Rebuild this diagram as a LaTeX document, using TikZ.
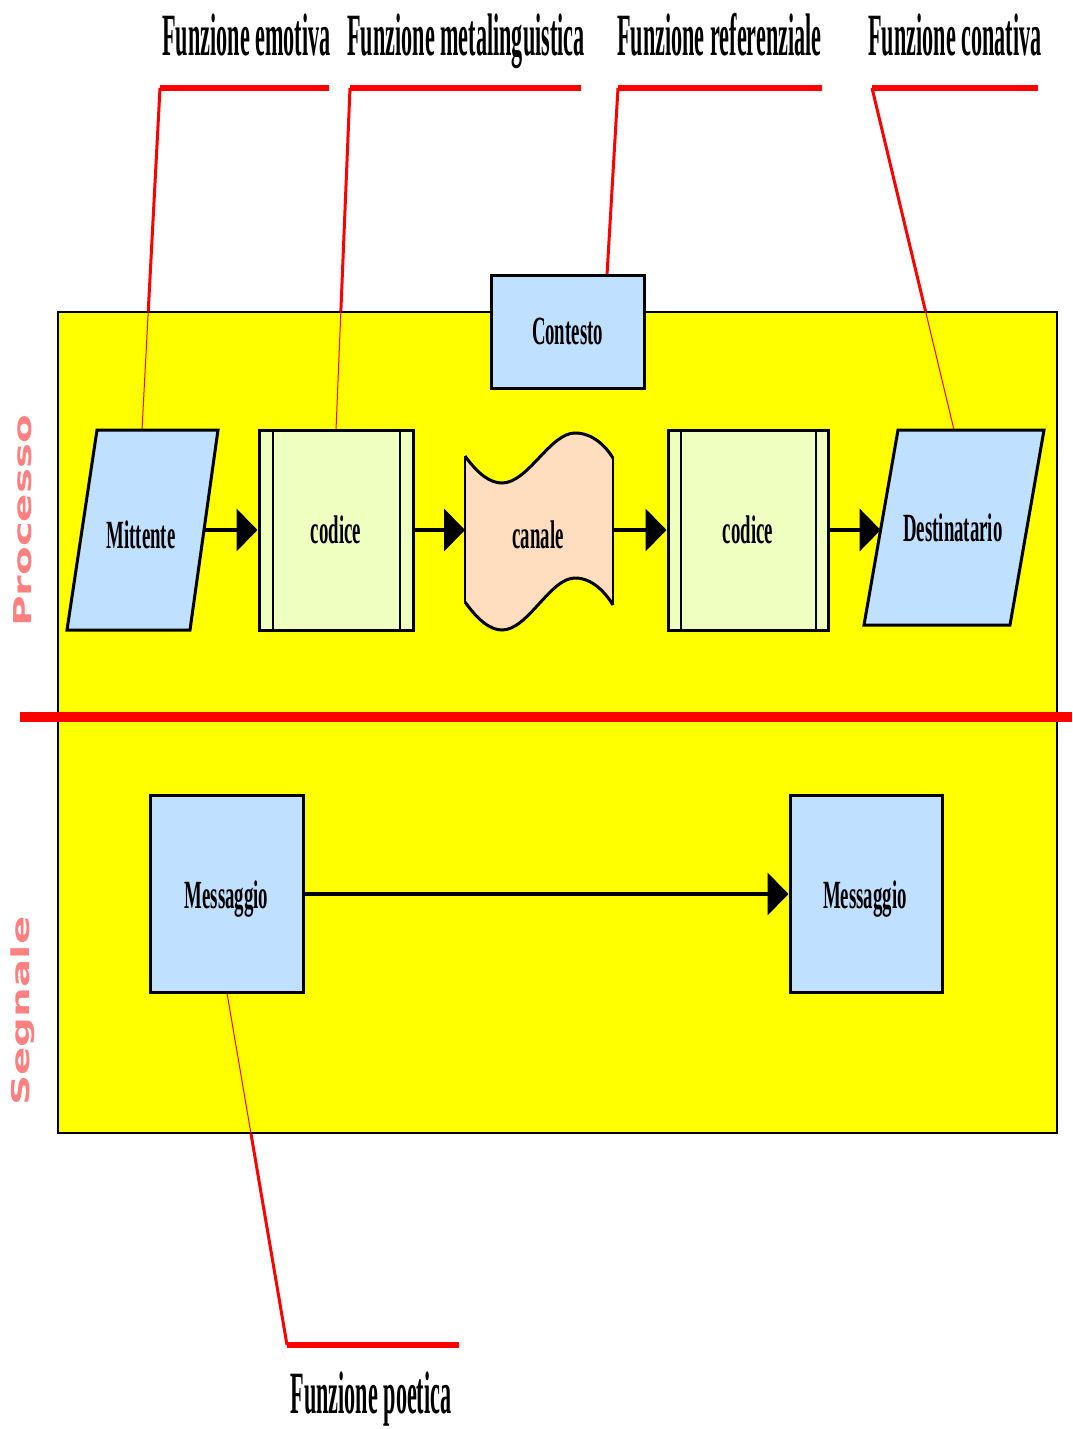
\documentclass[tikz,border=0pt]{standalone}
\usepackage{fontspec}
\setmainfont{Liberation Serif}
\newfontfamily\headfont[FakeStretch=0.37]{Liberation Serif}
\newfontfamily\boxfont[FakeStretch=0.47]{Liberation Serif}
\newfontfamily\sidefont[FakeStretch=1.7]{DejaVu Sans}
\usetikzlibrary{arrows.meta}
\definecolor{panelyellow}{RGB}{255,255,0}
\definecolor{shapeblue}{RGB}{192,224,255}
\definecolor{codegreen}{RGB}{238,255,192}
\definecolor{channelpeach}{RGB}{255,221,190}
\definecolor{leadred}{RGB}{255,0,0}
\definecolor{sidepink}{RGB}{255,128,128}

\begin{document}
\begin{tikzpicture}[x=0.5pt,y=-0.5pt,
  heading/.style={font=\headfont\bfseries\fontsize{30}{30}\selectfont, anchor=base, inner sep=0pt},
  boxtext/.style={font=\boxfont\bfseries\fontsize{20}{20}\selectfont},
  sidelabel/.style={font=\sidefont\bfseries\fontsize{12.3}{12.3}\selectfont, text=sidepink, rotate=90, inner sep=0pt},
  outline/.style={draw=black, line width=1.5pt},
  bluebox/.style={outline, fill=shapeblue, inner sep=0pt, boxtext},
  codebox/.style={outline, fill=codegreen, inner sep=0pt, boxtext, minimum height=100pt},
  flow/.style={line width=2pt, -{Triangle[length=10.5pt,width=21pt]}},
  leadouter/.style={draw=leadred, line width=1.5pt},
  leadinner/.style={draw=leadred, line width=0.5pt},
  leadbar/.style={draw=leadred, line width=3pt},
]
% page
\fill[white] (0,0) rectangle (1072,1429);
\useasboundingbox (0,0) rectangle (1072,1429);

% leader elbows and end points
\coordinate (emoBarR) at (329,88);
\coordinate (emoBarL) at (160,88);
\coordinate (emoEnd)  at (142,430);
\coordinate (metBarR) at (581,88);
\coordinate (metBarL) at (350,88);
\coordinate (metEnd)  at (336,430);
\coordinate (refBarR) at (822,88);
\coordinate (refBarL) at (618,88);
\coordinate (refEnd)  at (607,275);
\coordinate (conBarR) at (1038,88);
\coordinate (conBarL) at (872,88);
\coordinate (conEnd)  at (954,430);
\coordinate (poeStart) at (227,993);
\coordinate (poeBarL) at (287,1345);
\coordinate (poeBarR) at (459,1345);

% leaders, heavy part (outside the panel)
\draw[leadouter] (emoBarL) -- (emoEnd);
\draw[leadouter] (metBarL) -- (metEnd);
\draw[leadouter] (refBarL) -- (refEnd);
\draw[leadouter] (conBarL) -- (conEnd);
\draw[leadouter] (poeStart) -- (poeBarL);
\draw[leadbar] (emoBarR) -- (emoBarL);
\draw[leadbar] (metBarR) -- (metBarL);
\draw[leadbar] (refBarR) -- (refBarL);
\draw[leadbar] (conBarR) -- (conBarL);
\draw[leadbar] (poeBarL) -- (poeBarR);

% yellow panel
\node[draw=black, line width=1.25pt, fill=panelyellow, minimum width=499.5pt,
      minimum height=410.5pt, inner sep=0pt] (panel) at (557.5,722.5) {};

% leaders, fine part (inside the panel)
\draw[leadinner] (emoBarL) -- (emoEnd);
\draw[leadinner] (metBarL) -- (metEnd);
\draw[leadinner] (conBarL) -- (conEnd);
\draw[leadinner] (poeStart) -- (poeBarL);

% separator between process and signal
\coordinate (sepL) at (20,717);
\coordinate (sepR) at (1072,717);
\draw[draw=leadred, line width=5pt] (sepL) -- (sepR);

% side labels
\node[sidelabel] (proc) at (23,521) {Processo};
\node[sidelabel] (segn) at (23,1011) {Segnale};

% headings
\node[heading] (hEmo) at (246.5,56) {Funzione emotiva};
\node[heading] (hMet) at (466,56) {Funzione metalinguistica};
\node[heading] (hRef) at (719.5,56) {Funzione referenziale};
\node[heading] (hCon) at (955,56) {Funzione conativa};
\node[heading] (hPoe) at (371,1413) {Funzione poetica};

% context
\node[bluebox, minimum width=76.5pt, minimum height=56.5pt] (ctx) at (567.5,331.5) {Contesto};

% sender
\draw[outline, fill=shapeblue] (97,430) -- (218,430) -- (190,630) -- (67,630) -- cycle;
\node[boxtext] (mit) at (141,535) {Mittente};
\coordinate (mitR) at (203.5,530);

% first code
\node[codebox, minimum width=77pt] (cod1) at (336,530) {codice};
\draw[line width=1pt] ([xshift=7.5pt]cod1.north west) -- ([xshift=7.5pt]cod1.south west);
\draw[line width=1pt] ([xshift=-7.5pt]cod1.north east) -- ([xshift=-7.5pt]cod1.south east);

% channel
\fill[channelpeach] (465,456) .. controls (478,474) and (490,483) .. (502,483)
  .. controls (528,483) and (550,433) .. (575,433)
  .. controls (592,433) and (605,445) .. (613,458)
  -- (613,605)
  .. controls (605,592) and (592,578) .. (575,578)
  .. controls (550,578) and (528,630) .. (502,630)
  .. controls (490,630) and (478,620) .. (465,602) -- cycle;
\draw[outline] (465,456) .. controls (478,474) and (490,483) .. (502,483)
  .. controls (528,483) and (550,433) .. (575,433)
  .. controls (592,433) and (605,445) .. (613,458);
\draw[outline] (613,605)
  .. controls (605,592) and (592,578) .. (575,578)
  .. controls (550,578) and (528,630) .. (502,630)
  .. controls (490,630) and (478,620) .. (465,602);
\draw[line width=0.6pt] (465,456) -- (465,602);
\draw[line width=0.6pt] (613,458) -- (613,605);
\node[boxtext] (can) at (538,535) {canale};
\coordinate (canL) at (465,530);
\coordinate (canR) at (613,530);

% second code
\node[codebox, minimum width=80pt] (cod2) at (748,530) {codice};
\draw[line width=1pt] ([xshift=7pt]cod2.north west) -- ([xshift=7pt]cod2.south west);
\draw[line width=1pt] ([xshift=-7pt]cod2.north east) -- ([xshift=-7pt]cod2.south east);

% receiver
\draw[outline, fill=shapeblue] (898,430) -- (1044,430) -- (1010,625) -- (864,625) -- cycle;
\node[boxtext] (dst) at (953,528) {Destinatario};
\coordinate (dstL) at (880.6,530);

% messages
\node[bluebox, minimum width=76.5pt, minimum height=98.5pt] (msg1) at (226.5,894) {};
\node[bluebox, minimum width=76pt, minimum height=98.5pt] (msg2) at (866,894) {};
\node[boxtext] (msg1text) at (226.5,899) {Messaggio};
\node[boxtext] (msg2text) at (865,899) {Messaggio};

% flow of communication
\draw[flow] (mitR) -- (cod1.west);
\draw[flow] (cod1.east) -- (canL);
\draw[flow] (canR) -- (cod2.west);
\draw[flow] (cod2.east) -- (dstL);
\draw[flow] (msg1.east) -- (msg2.west);
\end{tikzpicture}
\end{document}
